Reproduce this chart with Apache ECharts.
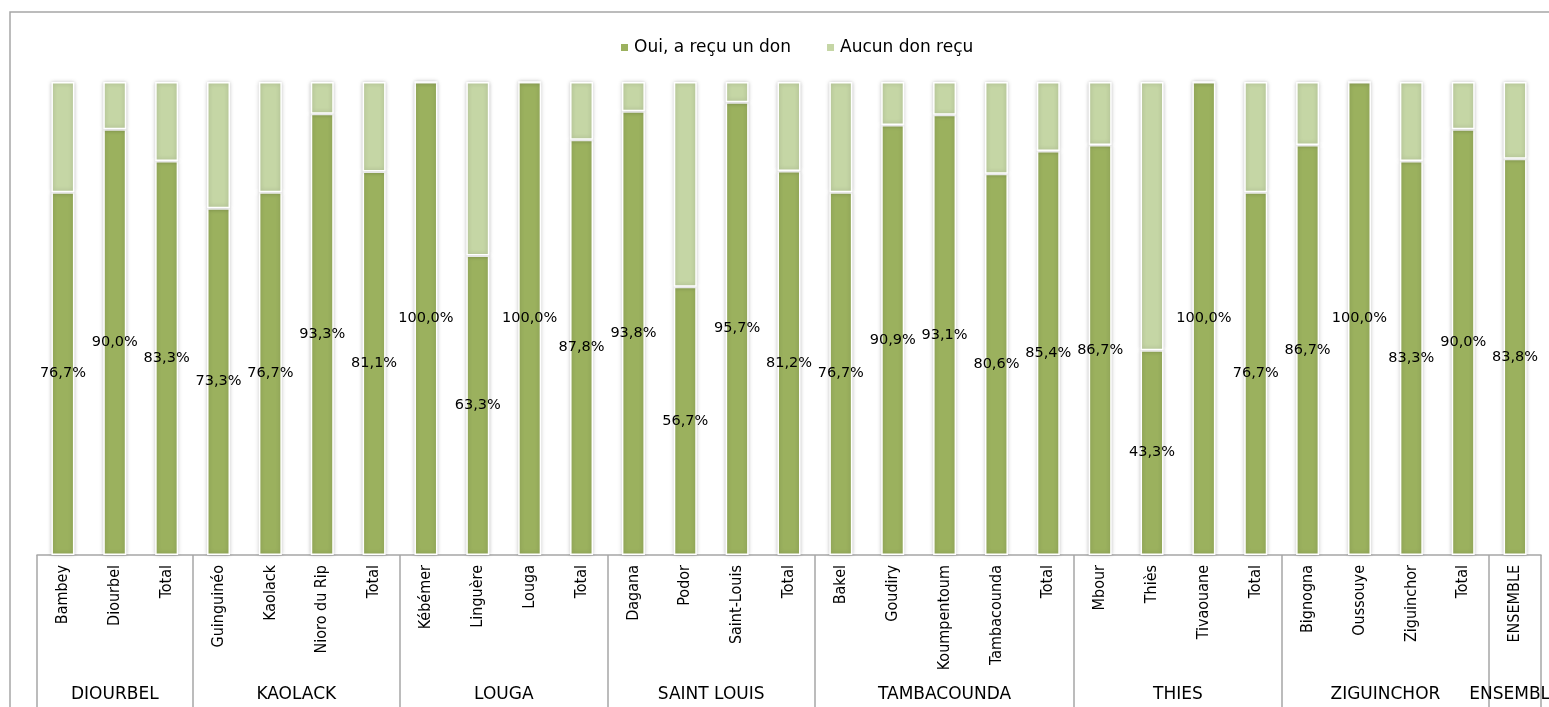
<!DOCTYPE html>
<html>
<head>
<meta charset="utf-8">
<script src="https://cdn.jsdelivr.net/npm/echarts@6/dist/echarts.min.js"></script>
<style>
html,body{margin:0;padding:0;background:#fff;overflow:hidden;}
#c{width:1549px;height:707px;}
</style>
</head>
<body>
<div id="c"></div>
<script>
const categories = ['Bambey','Diourbel','Total','Guinguinéo','Kaolack','Nioro du Rip','Total','Kébémer','Linguère','Louga','Total','Dagana','Podor','Saint-Louis','Total','Bakel','Goudiry','Koumpentoum','Tambacounda','Total','Mbour','Thiès','Tivaouane','Total','Bignogna','Oussouye','Ziguinchor','Total','ENSEMBLE'];
const ouiValues = [76.7,90.0,83.3,73.3,76.7,93.3,81.1,100.0,63.3,100.0,87.8,93.8,56.7,95.7,81.2,76.7,90.9,93.1,80.6,85.4,86.7,43.3,100.0,76.7,86.7,100.0,83.3,90.0,83.8];
const aucunValues = [23.3,10.0,16.7,26.7,23.3,6.7,18.9,0,36.7,0,12.2,6.2,43.3,4.3,18.8,23.3,9.1,6.9,19.4,14.6,13.3,56.7,0,23.3,13.3,0,16.7,10.0,16.2];
const groups = ['DIOURBEL','KAOLACK','LOUGA','SAINT LOUIS','TAMBACOUNDA','THIES','ZIGUINCHOR','ENSEMBLE'];
const groupBoundaries = [0,3,7,11,15,20,24,28,29];
const groupCenters = [1.5,5,9,13,17.5,22,26,28.5];
const seriesNames = ['Oui, a reçu un don','Aucun don reçu'];

const chart = echarts.init(document.getElementById('c'));
const dark = '#9BB15E', light = '#C5D6A5';
const barStyle = (c) => ({color:c, borderColor:'#fff', borderWidth:1.5, shadowColor:'rgba(0,0,0,0.22)', shadowBlur:4});
chart.setOption({
  animation:false,
  graphic:[{type:'rect', shape:{x:10,y:12,width:1600,height:800}, style:{fill:'none', stroke:'#A6A6A6', lineWidth:1.5}, silent:true}],
  legend:{
    data:seriesNames, top:34, left:614, itemWidth:9, itemHeight:9, itemGap:34, icon:'rect',
    textStyle:{fontFamily:'DejaVu Sans', fontSize:17, color:'#000'}
  },
  grid:{left:37, right:8, top:82, bottom:152, containLabel:false, outerBoundsMode:'none'},
  xAxis:[
    {type:'category', data:categories, position:'bottom',
     axisLine:{show:false}, axisTick:{show:false},
     axisLabel:{rotate:90, margin:10, interval:0, fontFamily:'Liberation Sans Narrow, DejaVu Sans Condensed', fontSize:16, color:'#000'}},
    {type:'value', min:0, max:29, position:'bottom', splitLine:{show:false},
     axisLine:{show:true, lineStyle:{color:'#A6A6A6', width:1.5}},
     axisTick:{show:true, customValues:groupBoundaries, length:170, lineStyle:{color:'#A6A6A6', width:1.5}},
     axisLabel:{customValues:groupCenters, margin:131, fontFamily:'DejaVu Sans', fontSize:17, color:'#000',
       formatter:(v)=>groups[groupCenters.indexOf(v)] || ''}}
  ],
  yAxis:{type:'value', min:0, max:100, show:false},
  series:[
    {name:seriesNames[0], type:'bar', stack:'s', data:ouiValues, barWidth:23, itemStyle:barStyle(dark),
     label:{show:true, position:'inside', fontFamily:'DejaVu Sans', fontSize:14.5, color:'#000',
       formatter:(p)=>p.value.toFixed(1).replace('.',',')+'%'}},
    {name:seriesNames[1], type:'bar', stack:'s', data:aucunValues, barWidth:23, itemStyle:barStyle(light)}
  ]
});
</script>
</body>
</html>
